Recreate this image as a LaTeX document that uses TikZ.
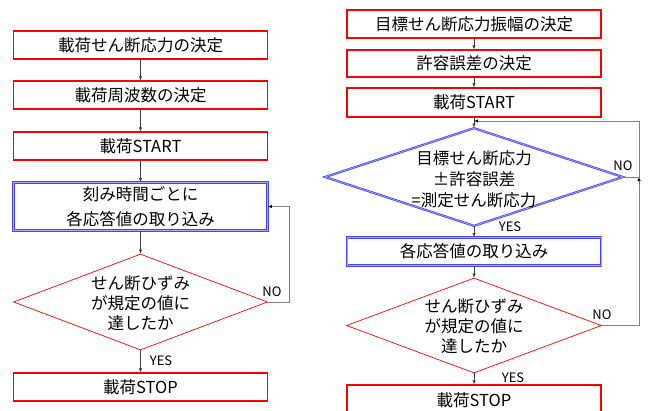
\documentclass[tikz,border=0pt]{standalone}
\usepackage{fontspec}
\setmainfont{Noto Sans CJK JP}
\usetikzlibrary{shapes.geometric,arrows.meta}
\definecolor{bbl}{RGB}{70,70,245}
\definecolor{bblin}{RGB}{170,170,255}
\tikzset{
  base/.style={font=\fontsize{16.5}{20}\selectfont, inner sep=0pt, align=center},
  rbox/.style={base, draw=red, line width=1.2pt, minimum width=254pt},
  bbox/.style={base, draw=bbl, line width=0.8pt, double=bblin, double distance=0.6pt, minimum width=254pt},
  rdia/.style={diamond, draw=red, line width=0.7pt, inner sep=0pt},
  bdia/.style={diamond, draw=bbl, line width=0.8pt, double=bblin, double distance=0.6pt, inner sep=0pt},
  lbl/.style={font=\fontsize{13}{15}\selectfont, inner sep=0pt},
  arr/.style={draw=black!75, line width=0.6pt, -{Latex[length=4pt,width=3.5pt]}},
  loop/.style={draw=black!50, line width=0.8pt},
  looparr/.style={loop, -{Latex[length=4pt,width=3.5pt,fill=black,color=black]}},
}
\begin{document}
\begin{tikzpicture}[x=1pt,y=-1pt]
\path[use as bounding box] (0,0) rectangle (648,410);
\begin{scope}
\clip (0,0) rectangle (648,410);
% left column
\node[rbox, minimum height=28pt] (l1) at (140.5,45) {載荷せん断応力の決定};
\node[rbox, minimum height=28pt] (l2) at (140.5,95) {載荷周波数の決定};
\node[rbox, minimum height=28pt] (l3) at (140.5,146) {載荷START};
\node[bbox, minimum height=48pt] (l4) at (140.5,206.5) {刻み時間ごとに\\[5pt]各応答値の取り込み};
\node[rdia, minimum width=254pt, minimum height=96pt] (ld) at (140.5,302) {};
\node[base] (ldt) at (140.5,303) {せん断ひずみ\\が規定の値に\\達したか};
\node[rbox, minimum height=28pt] (l5) at (140.5,387) {載荷STOP};
\draw[arr] (l1) -- (l2);
\draw[arr] (l2) -- (l3);
\draw[arr] (l3) -- (l4);
\draw[arr] (l4) -- (ld);
\draw[arr] (ld) -- (l5);
\coordinate (lc1) at (289,302);
\coordinate (lc2) at (289,206.5);
\draw[looparr] (ld.east) -- (lc1) -- (lc2) -- (l4.east);
\node[lbl] (lno) at (272,292) {NO};
\node[lbl] (lyes) at (161,361) {YES};
% right column
\node[rbox, minimum height=28pt] (r1) at (474,24) {目標せん断応力振幅の決定};
\node[rbox, minimum height=27pt] (r2) at (474,63.5) {許容誤差の決定};
\node[rbox, minimum height=29pt] (r3) at (474,102.5) {載荷START};
\node[bdia, minimum width=298pt, minimum height=98pt] (rd1) at (474,177) {};
\node[base, font=\fontsize{16.5}{21}\selectfont] (rd1t) at (474,179) {目標せん断応力\\±許容誤差\\=測定せん断応力};
\node[bbox, minimum height=28pt] (r4) at (474,251.5) {各応答値の取り込み};
\node[rdia, minimum width=255pt, minimum height=95pt] (rd2) at (474,325.5) {};
\node[base] (rd2t) at (474,326) {せん断ひずみ\\が規定の値に\\達したか};
\node[rbox, minimum height=30pt] (r5) at (474,400) {載荷STOP};
\draw[arr] (r1) -- (r2);
\draw[arr] (r2) -- (r3);
\draw[arr] (r3) -- (rd1);
\draw[arr] (rd1) -- (r4);
\draw[arr] (r4) -- (rd2);
\draw[arr] (rd2) -- (r5);
\coordinate (rc1) at (639,325.5);
\coordinate (rc2) at (639,177);
\coordinate (rc3) at (639,121);
\coordinate (rc4) at (474,121);
\draw[looparr] (rd2.east) -- (rc1) -- (rc2);
\draw[looparr] (rd1.east) -- (rc2) -- (rc3) -- (rc4);
\node[lbl] (rno1) at (623,166) {NO};
\node[lbl] (ryes1) at (510,227) {YES};
\node[lbl] (rno2) at (602,315) {NO};
\node[lbl] (ryes2) at (513,378) {YES};
\end{scope}
\end{tikzpicture}
\end{document}
